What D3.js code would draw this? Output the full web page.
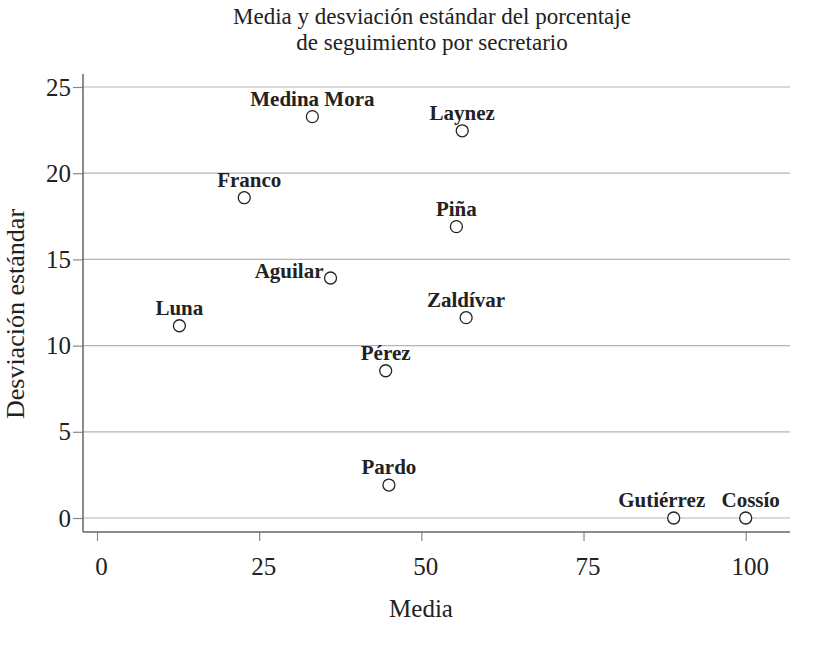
<!DOCTYPE html>
<html>
<head>
<meta charset="utf-8">
<script src="https://cdn.jsdelivr.net/npm/d3@7"></script>
<style>
  body { margin: 0; background: #fff; }
  svg { display: block; font-family: "Liberation Serif", "Times New Roman", serif; }
</style>
</head>
<body>
<div class="container"></div>
<script>
// secretarios, media y desviación estándar del porcentaje de seguimiento
var names = ["Medina Mora", "Laynez", "Franco", "Piña", "Aguilar", "Luna",
             "Zaldívar", "Pérez", "Pardo", "Gutiérrez", "Cossío"];
var media = [33.2, 56.3, 22.7, 55.4, 36.0, 12.7, 56.9, 44.5, 45.0, 88.9, 100];
var desviacion = [23.28, 22.46, 18.58, 16.9, 13.92, 11.15, 11.62, 8.54, 1.91, 0, 0];
var xTicks = [0, 25, 50, 75, 100];
var yTicks = [0, 5, 10, 15, 20, 25];

// where the label sits relative to the marker (clock position, small nudge)
var labelPos = {
    "Aguilar": {pos: 9, dx: 0},
    "Gutiérrez": {pos: 12, dx: -12},
    "Cossío": {pos: 12, dx: 5},
    "Franco": {pos: 12, dx: 5}
};

var viewWidth = 819;
var viewHeight = 649;

// plot frame
var frameLeft = 83, frameRight = 790, frameTop = 74, frameBottom = 532;

var xScale = d3.scaleLinear().domain([0, 100]).range([97, 745.7]);
var yScale = d3.scaleLinear().domain([0, 25]).range([518, 87]);

var svg = d3.select('.container')
    .append('svg')
    .attr('width', viewWidth)
    .attr('height', viewHeight);

// title
svg.append('text')
    .attr('x', 432).attr('y', 24)
    .attr('text-anchor', 'middle')
    .attr('font-size', 23).attr('fill', '#222')
    .text('Media y desviación estándar del porcentaje');
svg.append('text')
    .attr('x', 432).attr('y', 50)
    .attr('text-anchor', 'middle')
    .attr('font-size', 23).attr('fill', '#222')
    .text('de seguimiento por secretario');

// grid lines
svg.append('g')
    .selectAll('line')
    .data(yTicks)
    .enter()
    .append('line')
    .attr('x1', frameLeft).attr('x2', frameRight)
    .attr('y1', function (d) { return yScale(d); })
    .attr('y2', function (d) { return yScale(d); })
    .attr('stroke', '#b4b4b4')
    .attr('stroke-width', 1.2);

// y axis
var yAxis = d3.axisLeft(yScale)
    .tickValues(yTicks)
    .tickSizeInner(10)
    .tickSizeOuter(0)
    .tickPadding(2);

var gy = svg.append('g')
    .attr('transform', "translate(" + frameLeft + ", 0)")
    .call(yAxis);
gy.select('.domain').remove();
gy.selectAll('.tick line').attr('stroke', '#888').attr('stroke-width', 1.2);
gy.selectAll('.tick text')
    .attr('font-family', '"Liberation Serif", serif')
    .attr('font-size', 25).attr('fill', '#222');

// x axis
var xAxis = d3.axisBottom(xScale)
    .tickValues(xTicks)
    .tickSizeInner(9)
    .tickSizeOuter(0)
    .tickPadding(16);

var gx = svg.append('g')
    .attr('transform', "translate(0, " + frameBottom + ")")
    .call(xAxis);
gx.select('.domain').remove();
gx.selectAll('.tick line').attr('stroke', '#888').attr('stroke-width', 1.2);
gx.selectAll('.tick text')
    .attr('dx', 4)
    .attr('font-family', '"Liberation Serif", serif')
    .attr('font-size', 25).attr('fill', '#222');

// axis lines
svg.append('line')
    .attr('x1', frameLeft).attr('x2', frameLeft)
    .attr('y1', frameTop).attr('y2', frameBottom)
    .attr('stroke', '#666').attr('stroke-width', 1.5);
svg.append('line')
    .attr('x1', frameLeft).attr('x2', frameRight)
    .attr('y1', frameBottom).attr('y2', frameBottom)
    .attr('stroke', '#666').attr('stroke-width', 1.5);

// axis titles
svg.append('text')
    .attr('x', 421).attr('y', 617)
    .attr('text-anchor', 'middle')
    .attr('font-size', 25).attr('fill', '#222')
    .text('Media');
svg.append('text')
    .attr('transform', "translate(24, 314) rotate(-90)")
    .attr('text-anchor', 'middle')
    .attr('font-size', 26).attr('fill', '#222')
    .text('Desviación estándar');

// points
var points = names.map(function (n, i) {
    return {name: n, x: media[i], y: desviacion[i]};
});

svg.append('g')
    .selectAll('circle')
    .data(points)
    .enter()
    .append('circle')
    .attr('cx', function (d) { return xScale(d.x); })
    .attr('cy', function (d) { return yScale(d.y); })
    .attr('r', 6)
    .attr('fill', '#fff')
    .attr('stroke', '#222')
    .attr('stroke-width', 1.3);

svg.append('g')
    .selectAll('text')
    .data(points)
    .enter()
    .append('text')
    .attr('x', function (d) {
        var p = labelPos[d.name] || {pos: 12, dx: 0};
        if (p.pos === 9) return xScale(d.x) - 7 + p.dx;
        return xScale(d.x) + p.dx;
    })
    .attr('y', function (d) {
        var p = labelPos[d.name] || {pos: 12, dx: 0};
        if (p.pos === 9) return yScale(d.y);
        return yScale(d.y) - 11;
    })
    .attr('text-anchor', function (d) {
        var p = labelPos[d.name] || {pos: 12};
        return p.pos === 9 ? 'end' : 'middle';
    })
    .attr('font-size', 21)
    .attr('font-weight', 'bold')
    .attr('fill', '#222')
    .text(function (d) { return d.name; });
</script>
</body>
</html>
